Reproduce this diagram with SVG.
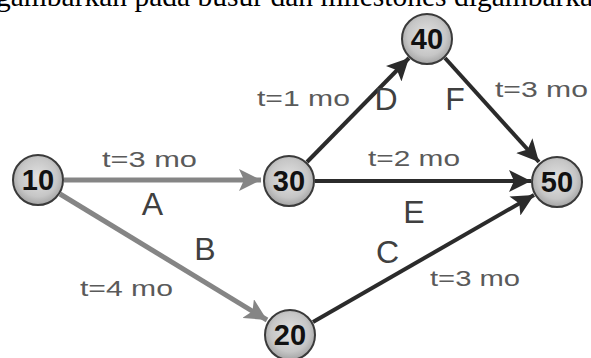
<svg xmlns="http://www.w3.org/2000/svg" width="591" height="358" viewBox="0 0 591 358">
<defs>
<radialGradient id="nodeFill" cx="50%" cy="45%" r="55%">
<stop offset="0%" stop-color="#e2e2e2"/>
<stop offset="70%" stop-color="#c6c6c6"/>
<stop offset="100%" stop-color="#a4a4a4"/>
</radialGradient>
<marker id="arrGray" markerUnits="userSpaceOnUse" markerWidth="24" markerHeight="22" refX="22" refY="11" orient="auto">
<path d="M0,0 L22,11 L0,22 L5,11 Z" fill="#858585"/>
</marker>
<marker id="arrDark" markerUnits="userSpaceOnUse" markerWidth="24" markerHeight="22" refX="22" refY="11" orient="auto">
<path d="M0,0 L22,11 L0,22 L5,11 Z" fill="#2b2b2b"/>
</marker>
</defs>
<style>
.node circle{fill:url(#nodeFill);stroke:#3a3a3a;stroke-width:2}
.node text{font-family:"Liberation Sans",Arial,sans-serif;font-weight:bold;font-size:29px;fill:#111;text-anchor:middle}
.gray{stroke:#858585;stroke-width:5;fill:none;marker-end:url(#arrGray)}
.dark{stroke:#2b2b2b;stroke-width:4;fill:none;marker-end:url(#arrDark)}
.dur{font-family:"Liberation Sans",Arial,sans-serif;font-size:22px;fill:#5a5a5a}
.act{font-family:"Liberation Sans",Arial,sans-serif;font-size:32px;fill:#404040;text-anchor:middle}
.top{font-family:"Liberation Serif","Times New Roman",serif;font-size:29.5px;fill:#000}
</style>
<rect width="591" height="358" fill="#fff"/>
<text class="top" x="-4" y="6">gambarkan pada busur dan milestones digambarkan</text>
<g id="connectors">
<line id="edge-A" class="gray" x1="64" y1="180" x2="261" y2="180"/>
<line id="edge-B" class="gray" x1="60" y1="194" x2="267" y2="320"/>
<line id="edge-C" class="dark" x1="313" y1="322" x2="534" y2="195"/>
<line id="edge-D" class="dark" x1="307" y1="162" x2="409" y2="58"/>
<line id="edge-E" class="dark" x1="315" y1="181" x2="531" y2="181"/>
<line id="edge-F" class="dark" x1="445" y1="58" x2="539" y2="162"/>
</g>
<g id="labels">
<text class="dur" x="102" y="167" textLength="95" lengthAdjust="spacingAndGlyphs">t=3 mo</text>
<text class="act" x="152.5" y="215">A</text>
<text class="act" x="205" y="260">B</text>
<text class="dur" x="80" y="296" textLength="93" lengthAdjust="spacingAndGlyphs">t=4 mo</text>
<text class="act" x="387.5" y="263">C</text>
<text class="dur" x="430" y="286" textLength="90" lengthAdjust="spacingAndGlyphs">t=3 mo</text>
<text class="dur" x="257" y="106" textLength="93" lengthAdjust="spacingAndGlyphs">t=1 mo</text>
<text class="act" x="386" y="110">D</text>
<text class="act" x="455" y="110">F</text>
<text class="dur" x="495" y="97" textLength="93" lengthAdjust="spacingAndGlyphs">t=3 mo</text>
<text class="dur" x="368" y="166" textLength="92" lengthAdjust="spacingAndGlyphs">t=2 mo</text>
<text class="act" x="414" y="223">E</text>
</g>
<g id="node-10" class="node"><circle cx="38" cy="180" r="25"/><text x="38" y="190">10</text></g>
<g id="node-30" class="node"><circle cx="289" cy="181" r="25"/><text x="289" y="191">30</text></g>
<g id="node-40" class="node"><circle cx="427" cy="39" r="25"/><text x="427" y="49">40</text></g>
<g id="node-50" class="node"><circle cx="557" cy="182" r="25"/><text x="557" y="192">50</text></g>
<g id="node-20" class="node"><circle cx="290" cy="335" r="25"/><text x="290" y="345">20</text></g>
</svg>
